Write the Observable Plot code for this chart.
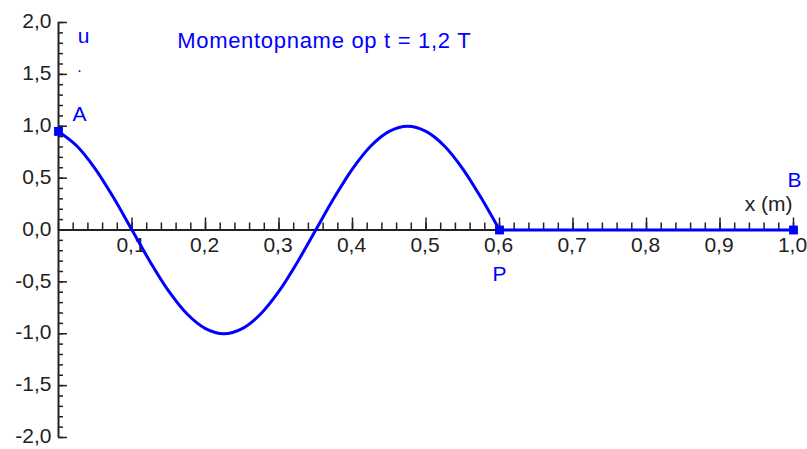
<!DOCTYPE html>
<html><head><meta charset="utf-8">
<script src="https://cdn.jsdelivr.net/npm/d3@7"></script>
<script src="https://cdn.jsdelivr.net/npm/@observablehq/plot@0.6"></script>
<style>html,body{margin:0;padding:0;background:#fff;}</style>
</head><body><div id="chart"></div>
<script>
// wave shape (u vs x in m)
const waveX = [0,0.025,0.05,0.075,0.1,0.125,0.15,0.175,0.2,0.225,0.25,0.275,0.3,0.325,0.35,0.375,0.4,0.425,0.45,0.475,0.5,0.525,0.55,0.575,0.6];
const waveU = [0.95,0.81,0.59,0.31,0,-0.31,-0.59,-0.81,-0.95,-1.0,-0.95,-0.81,-0.59,-0.31,0,0.31,0.59,0.81,0.95,1.0,0.95,0.81,0.59,0.31,0];
// still-undisturbed part of the string
const restX = [0.6, 1.0];
const restU = [0, 0];
// marked points
const pointNames = ["A","P","B"];
const pointX = [0, 0.6, 1.0];
const pointU = [0.95, 0, 0];
// ticks
const yTickValues = [2,1.5,1,0.5,0,-0.5,-1,-1.5,-2];
const yTickLabels = ["2,0","1,5","1,0","0,5","0,0","-0,5","-1,0","-1,5","-2,0"];
const xTickValues = [0.1,0.2,0.3,0.4,0.5,0.6,0.7,0.8,0.9,1.0];
const xTickLabels = ["0,1","0,2","0,3","0,4","0,5","0,6","0,7","0,8","0,9","1,0"];
const yMinorTicks = d3.range(-20,21).map(i => i/10);
const xMinorTicks = d3.range(0,51).map(i => i/50);
const titleText = "Momentopname op t = 1,2 T";
const yAxisName = "u";
const xAxisName = "x (m)";

const BLUE = "#0000ff";
const INK = "#222";
const wave = waveX.map((x,i) => ({x, u: waveU[i]}));
const rest = restX.map((x,i) => ({x, u: restU[i]}));
const points = pointNames.map((n,i) => ({n, x: pointX[i], u: pointU[i]}));
const yTicks = yTickValues.map((v,i) => ({v, t: yTickLabels[i]}));
const xTicks = xTickValues.map((v,i) => ({v, t: xTickLabels[i]}));

const chart = Plot.plot({
  width: 807, height: 449,
  marginLeft: 58, marginRight: 14, marginTop: 22, marginBottom: 12,
  x: {domain: [0, 1], axis: null},
  y: {domain: [-2, 2], axis: null},
  style: {fontFamily: "Liberation Sans, Arial, sans-serif", background: "#fff"},
  marks: [
    // y axis ticks (pointing right)
    Plot.ruleY(yMinorTicks, {y: d => d, x1: 0, x2: 0, insetRight: -5, stroke: INK, strokeWidth: 1.5}),
    Plot.ruleY(yTickValues, {y: d => d, x1: 0, x2: 0, insetRight: -9, stroke: INK, strokeWidth: 1.5}),
    // x axis ticks (pointing up)
    Plot.ruleX(xMinorTicks, {x: d => d, y1: 0, y2: 0, insetTop: -7, stroke: INK, strokeWidth: 1.5}),
    Plot.ruleX(xTickValues, {x: d => d, y1: 0, y2: 0, insetTop: -12, stroke: INK, strokeWidth: 1.5}),
    // axis lines
    Plot.ruleX([0], {y1: -2, y2: 2, stroke: INK, strokeWidth: 2}),
    Plot.ruleY([0], {x1: 0, x2: 1, stroke: INK, strokeWidth: 2}),
    // tick labels
    Plot.text(yTicks, {x: 0, y: "v", text: "t", textAnchor: "end", dx: -7, dy: -1, fontSize: 21, fill: INK}),
    Plot.text(xTicks, {x: "v", y: 0, text: "t", lineAnchor: "top", dy: 7.5, dx: -1, fontSize: 21, fill: INK}),
    // wave
    Plot.line(wave, {x: "x", y: "u", stroke: BLUE, strokeWidth: 3, curve: "catmull-rom"}),
    Plot.line(rest, {x: "x", y: "u", stroke: BLUE, strokeWidth: 3}),
    Plot.dot(points, {x: "x", y: "u", symbol: "square", r: 5, fill: BLUE}),
    // point labels
    Plot.text(points.filter(d => d.n === "A"), {x: "x", y: "u", text: "n", lineAnchor: "bottom", dx: 21, dy: -10.5, fontSize: 21, fill: BLUE}),
    Plot.text(points.filter(d => d.n === "B"), {x: "x", y: "u", text: "n", lineAnchor: "bottom", dx: 1, dy: -43, fontSize: 21, fill: BLUE}),
    Plot.text(points.filter(d => d.n === "P"), {x: "x", y: "u", text: "n", lineAnchor: "bottom", dx: 0, dy: 50.5, fontSize: 21, fill: BLUE}),
    // axis names and title
    Plot.text([yAxisName], {x: 0, y: 2, text: d => d, lineAnchor: "bottom", dx: 25, dy: 20.7, fontSize: 21, fill: BLUE}),
    Plot.text(["."], {x: 0, y: 2, text: d => d, lineAnchor: "bottom", dx: 21, dy: 49, fontSize: 16, fill: BLUE}),
    Plot.text([xAxisName], {x: 1, y: 0, text: d => d, textAnchor: "end", lineAnchor: "bottom", dx: -1, dy: -19.5, fontSize: 21, fill: INK}),
    Plot.text([titleText], {x: 0, y: 2, text: d => d, textAnchor: "start", lineAnchor: "bottom", dx: 118.7, dy: 25.3, fontSize: 22, fill: BLUE})
  ]
});
document.getElementById("chart").append(chart);
chart.querySelectorAll("text").forEach(t => { if (t.textContent === titleText) t.setAttribute("letter-spacing", "0.7"); });
</script>
</body></html>
